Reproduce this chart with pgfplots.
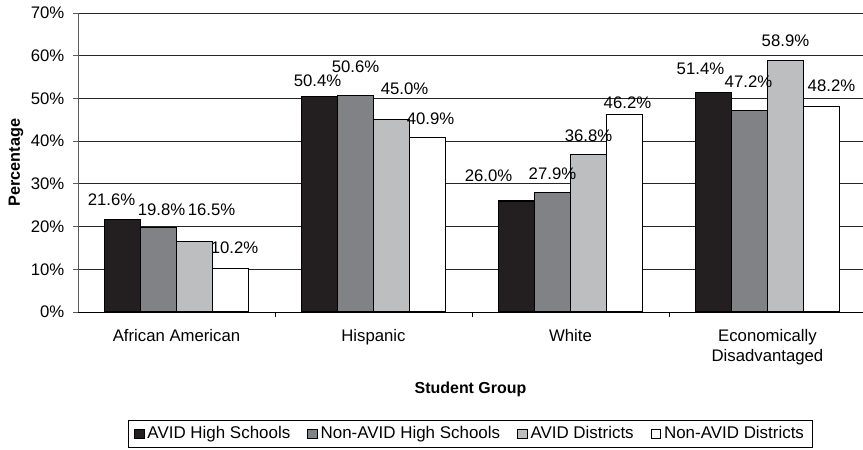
\documentclass[border=0pt]{standalone}
\usepackage{pgfplots}
\usepackage{pgfplotstable}
\usepackage{fontspec}
\setmainfont{Liberation Sans}
\pgfplotsset{compat=1.18}
\definecolor{cA}{HTML}{231F20}
\definecolor{cB}{HTML}{808285}
\definecolor{cC}{HTML}{BCBEC0}
\definecolor{cD}{HTML}{FFFFFF}
\pgfplotstableread[row sep=\\]{
x y dx dy \\
0 21.6 -11 14 \\
1 50.4 -2 10 \\
2 26.0 -28 19 \\
3 51.4 -13 18 \\
}\tabA
\pgfplotstableread[row sep=\\]{
x y dx dy \\
0 19.8 3 12 \\
1 50.6 0 23 \\
2 27.9 0 13 \\
3 47.2 -1 23 \\
}\tabB
\pgfplotstableread[row sep=\\]{
x y dx dy \\
0 16.5 17 26.5 \\
1 45.0 13 25 \\
2 36.8 0 13 \\
3 58.9 0 14 \\
}\tabC
\pgfplotstableread[row sep=\\]{
x y dx dy \\
0 10.2 4 15 \\
1 40.9 3 13 \\
2 46.2 3 6 \\
3 48.2 10 15 \\
}\tabD
\begin{document}
\fontsize{16.5}{19.8}\selectfont
\begin{tikzpicture}
\begin{axis}[
  at={(78bp,138bp)}, anchor=south west,
  scale only axis, width=785bp, height=299bp,
  xmin=-0.5, xmax=3.485, ymin=0, ymax=70,
  ybar, bar width=0.1827,
  axis x line*=bottom, axis y line*=left,
  x axis line style={black, line width=1bp},
  y axis line style={black!65, line width=1bp},
  tick align=outside,
  major tick length=5bp,
  ytick={0,10,...,70},
  yticklabel={\pgfmathprintnumber{\tick}\%},
  y tick label style={xshift=-3bp},
  ytick style={black!65, line width=0.8bp},
  ymajorgrids,
  grid style={black!85, line width=0.8bp},
  /pgf/number format/assume math mode=true,
  tick label style={font=\fontsize{16.8}{20}\selectfont},
  xtick={0.5,1.5,2.5},
  xticklabels={},
  xtick style={black, line width=0.8bp},
  extra x ticks={0,1,2,3},
  extra x tick labels={African American, Hispanic, White, Economically\\Disadvantaged},
  extra x tick style={major tick length=0pt, tick style={draw=none}, grid=none,
     x tick label style={align=center, anchor=north, yshift=-12bp}},
  xlabel={\textbf{Student Group}},
  xlabel style={at={(axis description cs:0.5,-0.274)}, anchor=base, font=\fontsize{16}{19}\selectfont},
  ylabel={\textbf{Percentage}},
  ylabel style={at={(axis description cs:-0.0739,0.5)}, anchor=base, font=\fontsize{16.3}{19}\selectfont},
  legend columns=-1,
  legend style={at={(axis description cs:0.4994,-0.408)}, anchor=center,
     draw=black, line width=0.8bp, inner xsep=6bp, inner ysep=4bp,
     font=\fontsize{17}{20}\selectfont,
     /tikz/every even column/.append style={column sep=15bp},
     /tikz/every odd column/.append style={column sep=1bp}},
  legend image code/.code={\draw[#1, line width=0.9bp] (0bp,-4.5bp) rectangle (9.5bp,5bp);},
  nodes near coords={\pgfmathprintnumber[fixed,fixed zerofill,precision=1]{\pgfplotspointmeta}\%},
  visualization depends on={\thisrow{dx} \as \labdx},
  visualization depends on={\thisrow{dy} \as \labdy},
  every node near coord/.append style={anchor=base, inner sep=0pt, xshift=\labdx bp, yshift=\labdy bp, font=\fontsize{16.8}{20}\selectfont, text=black},
]
\addplot[fill=cA, draw=black, line width=1.2bp, bar shift=-0.2741] table[x=x,y=y] {\tabA};
\addplot[fill=cB, draw=black, line width=1.2bp, bar shift=-0.0914] table[x=x,y=y] {\tabB};
\addplot[fill=cC, draw=black, line width=1.2bp, bar shift=0.0914] table[x=x,y=y] {\tabC};
\addplot[fill=cD, draw=black, line width=1.2bp, bar shift=0.2741] table[x=x,y=y] {\tabD};
\legend{AVID High Schools, Non-AVID High Schools, AVID Districts, Non-AVID Districts}
\end{axis}
\pgfresetboundingbox
\path[use as bounding box] (0,0) rectangle (863bp,450bp);
\end{tikzpicture}
\end{document}
